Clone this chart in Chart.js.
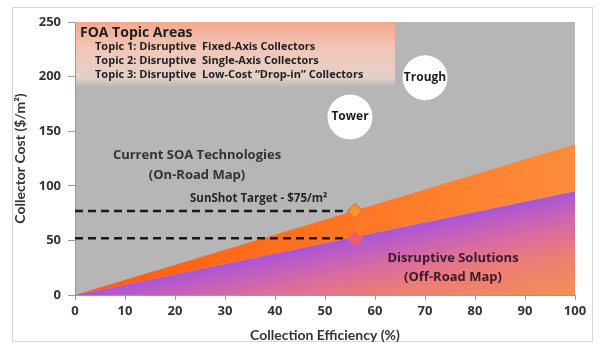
<!DOCTYPE html>
<html><head><meta charset="utf-8">
<script src="https://cdn.jsdelivr.net/npm/chart.js@4/dist/chart.umd.min.js"></script>
<style>html,body{margin:0;padding:0;background:#fff;}#wrap{width:610px;height:356px;position:relative;}</style>
</head><body><div id="wrap"><canvas id="c" width="610" height="356"></canvas></div>
<script>
// ---- data ----
const efficiency = [0, 100];
const currentCost = [0, 138];      // upper boundary of SOA (on-road) band
const disruptiveCost = [0, 95];    // upper boundary of disruptive (off-road) region
const targetEfficiency = [0, 56];
const sunshotTarget = [77, 77];
const disruptiveTarget = [52, 52];
const xTickValues = [0, 10, 20, 30, 40, 50, 60, 70, 80, 90, 100];
const yTickValues = [0, 50, 100, 150, 200, 250];
const topicLines = [
  'Topic 1: Disruptive  Fixed-Axis Collectors',
  'Topic 2: Disruptive  Single-Axis Collectors',
  'Topic 3: Disruptive  Low-Cost \u201cDrop-in\u201d Collectors'
];

const FONT = '"Open Sans", Lato, sans-serif';
const FONT2 = 'Lato, "Open Sans", sans-serif';

function pts(xs, ys){ return xs.map((x,i)=>({x:x, y:ys[i]})); }

function purpleGrad(ctx){
  const ch = ctx.chart, a = ch.chartArea;
  if(!a) return '#a855d6';
  const x = ch.scales.x, y = ch.scales.y;
  const n = efficiency.length - 1;
  const x0 = x.getPixelForValue(efficiency[0]), y0 = y.getPixelForValue(disruptiveCost[0]);
  const x1 = x.getPixelForValue(efficiency[n]), y1 = y.getPixelForValue(disruptiveCost[n]);
  const dx = x1 - x0, dy = y1 - y0, L = Math.hypot(dx, dy);
  const nx = -dy / L, ny = dx / L; // perpendicular pointing down
  const d = (a.bottom - y1) * ny;
  const g = ch.ctx.createLinearGradient(x1, y1, x1 + nx * d, y1 + ny * d);
  g.addColorStop(0, '#aa55d6');
  g.addColorStop(0.14, '#c05ec0');
  g.addColorStop(0.34, '#da6c9e');
  g.addColorStop(0.6, '#ec7e74');
  g.addColorStop(1, '#f68e54');
  return g;
}
function orangeGrad(ctx){
  const ch = ctx.chart, a = ch.chartArea;
  if(!a) return '#ff7a2a';
  const g = ch.ctx.createLinearGradient(a.left, 0, a.right, 0);
  g.addColorStop(0, '#ff5a0e');
  g.addColorStop(0.5, '#ff7420');
  g.addColorStop(1, '#fd8c3c');
  return g;
}

const bgPlugin = {
  id: 'bg',
  beforeDraw(chart){
    const c = chart.ctx, a = chart.chartArea, x = chart.scales.x, y = chart.scales.y;
    c.save();
    c.strokeStyle = '#d8d8d8'; c.lineWidth = 1;
    c.strokeRect(12.5, 7.5, 580, 334);
    c.fillStyle = '#b6b6b6';
    c.fillRect(a.left, a.top, a.right - a.left, a.bottom - a.top);
    const bx0 = a.left, bx1 = x.getPixelForValue(64), by0 = a.top, by1 = y.getPixelForValue(190);
    const g = c.createLinearGradient(0, by0, 0, by1);
    g.addColorStop(0, '#f4a88e');
    g.addColorStop(0.4, '#f2c6b8');
    g.addColorStop(0.85, '#e4d0ca');
    g.addColorStop(1, '#b6b6b6');
    c.fillStyle = g;
    c.fillRect(bx0, by0, bx1 - bx0, by1 - by0);
    c.restore();
  },
  afterDatasetsDraw(chart){
    const c = chart.ctx, x = chart.scales.x, y = chart.scales.y, a = chart.chartArea;
    c.save();
    c.fillStyle = '#1e1e1e';
    c.textBaseline = 'middle';
    c.textAlign = 'left';
    c.font = 'bold 14px ' + FONT;
    c.fillText('FOA Topic Areas', a.left + 5, 33);
    c.font = 'bold 11px ' + FONT;
    topicLines.forEach((t,i)=> c.fillText(t, a.left + 20, 47 + i*14));
    const circ = (cx, cy, label) => {
      c.beginPath(); c.arc(cx, cy, 22.5, 0, Math.PI*2); c.fillStyle = '#ffffff'; c.fill();
      c.fillStyle = '#1e1e1e'; c.textAlign = 'center'; c.font = 'bold 12px ' + FONT;
      c.fillText(label, cx, cy);
    };
    circ(x.getPixelForValue(70), y.getPixelForValue(199), 'Trough');
    circ(x.getPixelForValue(55), y.getPixelForValue(163), 'Tower');
    c.textAlign = 'center';
    c.fillStyle = '#333333';
    c.font = 'bold 13px ' + FONT;
    c.fillText('Current SOA Technologies', x.getPixelForValue(24.4), y.getPixelForValue(128));
    c.fillText('(On-Road Map)', x.getPixelForValue(24.4), y.getPixelForValue(110));
    c.fillStyle = '#3a1a2c';
    c.fillText('Disruptive Solutions', x.getPixelForValue(75.6), y.getPixelForValue(34));
    c.fillText('(Off-Road Map)', x.getPixelForValue(75.6), y.getPixelForValue(16));
    c.fillStyle = '#262626';
    c.font = 'bold 11.5px ' + FONT;
    c.textAlign = 'left';
    c.fillText('SunShot Target - $75/m\u00b2', x.getPixelForValue(23), y.getPixelForValue(88));
    c.restore();
  }
};

new Chart(document.getElementById('c'), {
  type: 'line',
  data: {
    datasets: [
      { data: pts(efficiency, disruptiveCost), fill: 'origin', backgroundColor: purpleGrad, borderWidth: 0, pointRadius: 0, order: 5 },
      { data: pts(efficiency, currentCost), fill: '-1', backgroundColor: orangeGrad, borderWidth: 0, pointRadius: 0, order: 4 },
      { data: pts(targetEfficiency, sunshotTarget), borderColor: '#1a1a1a', borderWidth: 2.5, borderDash: [8, 5], fill: false,
        pointRadius: [0, 7.5], pointStyle: 'rectRot', pointBackgroundColor: '#f7922e', pointBorderColor: '#e0641a', pointBorderWidth: 1, order: 2 },
      { data: pts(targetEfficiency, disruptiveTarget), borderColor: '#1a1a1a', borderWidth: 2.5, borderDash: [8, 5], fill: false,
        pointRadius: [0, 7.5], pointStyle: 'rectRot', pointBackgroundColor: '#ee5a6e', pointBorderColor: '#f47a2a', pointBorderWidth: 1, order: 1 }
    ]
  },
  options: {
    responsive: false, animation: false,
    layout: { padding: { left: 12, right: 35, top: 22, bottom: 12 } },
    plugins: { legend: { display: false }, tooltip: { enabled: false } },
    scales: {
      x: {
        type: 'linear', min: 0, max: 100,
        afterBuildTicks(s){ s.ticks = xTickValues.map(v=>({value:v})); },
        afterFit(s){ s.height = 356 - 12 - 295; },
        grid: { display: true, drawOnChartArea: false, drawTicks: true, tickLength: 5, color: '#9a9a9a' },
        border: { display: true, color: '#9a9a9a' },
        ticks: { color: '#333', font: { family: FONT, size: 13, weight: 'bold' }, padding: 3, maxRotation: 0 },
        title: { display: true, text: 'Collection Efficiency (%)', color: '#333', font: { family: FONT2, size: 14, weight: 'bold' }, padding: { top: 0, bottom: 0 } }
      },
      y: {
        type: 'linear', min: 0, max: 250,
        afterBuildTicks(s){ s.ticks = yTickValues.map(v=>({value:v})); },
        afterFit(s){ s.width = 75 - 12; },
        grid: { display: true, drawOnChartArea: false, drawTicks: true, tickLength: 7, color: '#9a9a9a' },
        border: { display: true, color: '#9a9a9a' },
        ticks: { color: '#333', font: { family: FONT, size: 13, weight: 'bold' }, padding: 7 },
        title: { display: true, text: 'Collector Cost ($/m\u00b2)', color: '#333', font: { family: FONT2, size: 14, weight: 'bold' }, padding: { top: 0, bottom: 0 } }
      }
    }
  },
  plugins: [bgPlugin]
});
</script>
</body></html>
